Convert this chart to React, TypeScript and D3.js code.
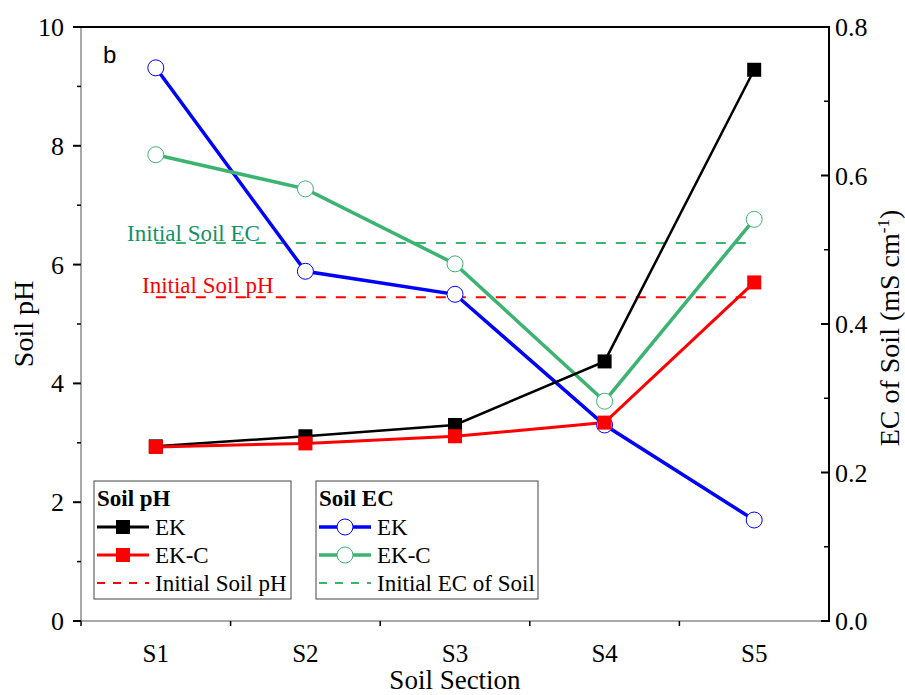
import React from 'react';
import * as d3 from 'd3';

const sections = ['S1', 'S2', 'S3', 'S4', 'S5'];
const phEK = [2.94, 3.11, 3.3, 4.37, 9.28];
const phEKC = [2.93, 2.99, 3.11, 3.34, 5.7];
const initialPH = 5.45;
const ecEK = [0.745, 0.471, 0.44, 0.264, 0.136];
const ecEKC = [0.628, 0.582, 0.481, 0.296, 0.541];
const initialEC = 0.509;

const W = 905, H = 695;
const margin = { left: 81, right: 76, top: 27, bottom: 74 };
const GREEN = '#3cb371';
const GREEN_TXT = '#159064';
const FONT = '"Liberation Serif", "Times New Roman", serif';

export default function App() {
  const x = d3.scaleBand().domain(sections).range([margin.left, W - margin.right]).padding(0);
  const yL = d3.scaleLinear().domain([0, 10]).range([H - margin.bottom, margin.top]);
  const yR = d3.scaleLinear().domain([0, 0.8]).range([H - margin.bottom, margin.top]);
  const cx = (s: string) => (x(s) as number) + x.bandwidth() / 2;
  const x0 = margin.left, x1 = W - margin.right, yb = H - margin.bottom, yt = margin.top;

  const lineL = d3.line<number>().x((_, i) => cx(sections[i])).y(d => yL(d));
  const lineR = d3.line<number>().x((_, i) => cx(sections[i])).y(d => yR(d));

  const leftMajor = d3.range(0, 11, 2);
  const leftMinor = d3.range(1, 10, 2);
  const rightMajor = [0, 0.2, 0.4, 0.6, 0.8];
  const rightMinor = [0.1, 0.3, 0.5, 0.7];
  const bounds = sections.slice(1).map(s => x(s) as number);

  const sq = 14;
  const r = 8;

  const legendPH = [
    { label: 'EK', color: '#000', type: 'sq' },
    { label: 'EK-C', color: '#ff0000', type: 'sq' },
    { label: 'Initial Soil pH', color: '#ff0000', type: 'dash' },
  ];
  const legendEC = [
    { label: 'EK', color: '#0000ff', type: 'ci' },
    { label: 'EK-C', color: GREEN, type: 'ci' },
    { label: 'Initial EC of Soil', color: GREEN, type: 'dash' },
  ];

  const legend = (lx: number, w: number, title: string, items: any[]) => (
    <g>
      <rect x={lx} y={481} width={w} height={118} fill="white" stroke="#444" strokeWidth={1} />
      <text x={lx + 3} y={506} fontFamily={FONT} fontWeight="bold" fontSize={23}>{title}</text>
      {items.map((it, i) => {
        const yy = 527 + i * 28;
        return (
          <g key={i}>
            {it.type === 'dash' ? (
              <line x1={lx + 3} x2={lx + 55} y1={yy} y2={yy} stroke={it.color} strokeWidth={2} strokeDasharray="8,8" />
            ) : (
              <line x1={lx + 3} x2={lx + 55} y1={yy} y2={yy} stroke={it.color} strokeWidth={it.type === 'ci' ? 3.5 : 3} />
            )}
            {it.type === 'sq' && <rect x={lx + 29 - 7} y={yy - 7} width={14} height={14} fill={it.color} />}
            {it.type === 'ci' && <circle cx={lx + 29} cy={yy} r={8} fill="white" stroke={it.color} strokeWidth={1} />}
            <text x={lx + 61} y={yy + 8} fontFamily={FONT} fontSize={23}>{it.label}</text>
          </g>
        );
      })}
    </g>
  );

  return (
    <svg width={W} height={H} style={{ position: 'absolute', left: 0, top: 0, background: 'white' }}>
      {/* initial lines */}
      <line x1={cx('S1')} x2={cx('S5')} y1={yR(initialEC)} y2={yR(initialEC)} stroke={GREEN} strokeWidth={2} strokeDasharray="10,10" />
      <line x1={cx('S1')} x2={cx('S5')} y1={yL(initialPH)} y2={yL(initialPH)} stroke="#ff0000" strokeWidth={2} strokeDasharray="10,10" />
      <text x={127} y={yR(initialEC) - 2} fontFamily={FONT} fontSize={23} fill={GREEN_TXT}>Initial Soil EC</text>
      <text x={142} y={yL(initialPH) - 4} fontFamily={FONT} fontSize={23} fill="#ff0000">Initial Soil pH</text>

      {/* EC series */}
      <path d={lineR(ecEK) || ''} fill="none" stroke="#0000ff" strokeWidth={3.5} />
      <path d={lineR(ecEKC) || ''} fill="none" stroke={GREEN} strokeWidth={3.5} />
      {/* pH series */}
      <path d={lineL(phEK) || ''} fill="none" stroke="#000" strokeWidth={2.5} />
      <path d={lineL(phEKC) || ''} fill="none" stroke="#ff0000" strokeWidth={3} />

      {ecEK.map((v, i) => <circle key={'b' + i} cx={cx(sections[i])} cy={yR(v)} r={r} fill="white" stroke="#0000ff" strokeWidth={1} />)}
      {ecEKC.map((v, i) => <circle key={'g' + i} cx={cx(sections[i])} cy={yR(v)} r={r} fill="white" stroke={GREEN} strokeWidth={1} />)}
      {phEK.map((v, i) => <rect key={'k' + i} x={cx(sections[i]) - sq / 2} y={yL(v) - sq / 2} width={sq} height={sq} fill="#000" />)}
      {phEKC.map((v, i) => <rect key={'r' + i} x={cx(sections[i]) - sq / 2} y={yL(v) - sq / 2} width={sq} height={sq} fill="#ff0000" />)}

      {legend(94, 197, 'Soil pH', legendPH)}
      {legend(316, 222, 'Soil EC', legendEC)}

      <text x={103} y={63} fontFamily='"Liberation Sans", Arial, sans-serif' fontSize={24}>b</text>

      {/* axes frame */}
      <line x1={x0} x2={x0} y1={yt} y2={yb} stroke="#555" strokeWidth={1} />
      <line x1={x0} x2={x1} y1={yb} y2={yb} stroke="#555" strokeWidth={1} />
      <line x1={x0 - 8} x2={x1} y1={yt} y2={yt} stroke="#000" strokeWidth={2} />
      <line x1={x1} x2={x1} y1={yt - 1} y2={yb + 1} stroke="#000" strokeWidth={2} />

      {/* left ticks */}
      {leftMajor.map(v => (
        <g key={'lm' + v}>
          <line x1={x0 - 8} x2={x0} y1={yL(v)} y2={yL(v)} stroke="#000" strokeWidth={2} />
          <text x={x0 - 17} y={yL(v) + 9} textAnchor="end" fontFamily={FONT} fontSize={26}>{v}</text>
        </g>
      ))}
      {leftMinor.map(v => <line key={'ln' + v} x1={x0 - 4} x2={x0} y1={yL(v)} y2={yL(v)} stroke="#000" strokeWidth={1.5} />)}

      {/* right ticks */}
      {rightMajor.map(v => (
        <g key={'rm' + v}>
          <line x1={x1 - 8} x2={x1} y1={yR(v)} y2={yR(v)} stroke="#000" strokeWidth={2} />
          <text x={x1 + 6} y={yR(v) + 9} fontFamily={FONT} fontSize={26}>{d3.format('.1f')(v)}</text>
        </g>
      ))}
      {rightMinor.map(v => <line key={'rn' + v} x1={x1 - 5} x2={x1} y1={yR(v)} y2={yR(v)} stroke="#000" strokeWidth={1.5} />)}

      {/* bottom ticks */}
      {[x0, ...bounds].map((b, i) => <line key={'bt' + i} x1={b} x2={b} y1={yb} y2={yb + 5} stroke="#000" strokeWidth={1.5} />)}
      {sections.map(s => (
        <text key={s} x={cx(s)} y={662} textAnchor="middle" fontFamily={FONT} fontSize={25}>{s}</text>
      ))}

      <text x={(x0 + x1) / 2} y={689} textAnchor="middle" fontFamily={FONT} fontSize={27}>Soil Section</text>
      <text transform={`translate(33,324) rotate(-90)`} textAnchor="middle" fontFamily={FONT} fontSize={28}>Soil pH</text>
      <text transform={`translate(899,328) rotate(-90)`} textAnchor="middle" fontFamily={FONT} fontSize={28}>
        EC of Soil (mS cm<tspan dy={-10} fontSize={17}>-1</tspan><tspan dy={10}>)</tspan>
      </text>
    </svg>
  );
}
